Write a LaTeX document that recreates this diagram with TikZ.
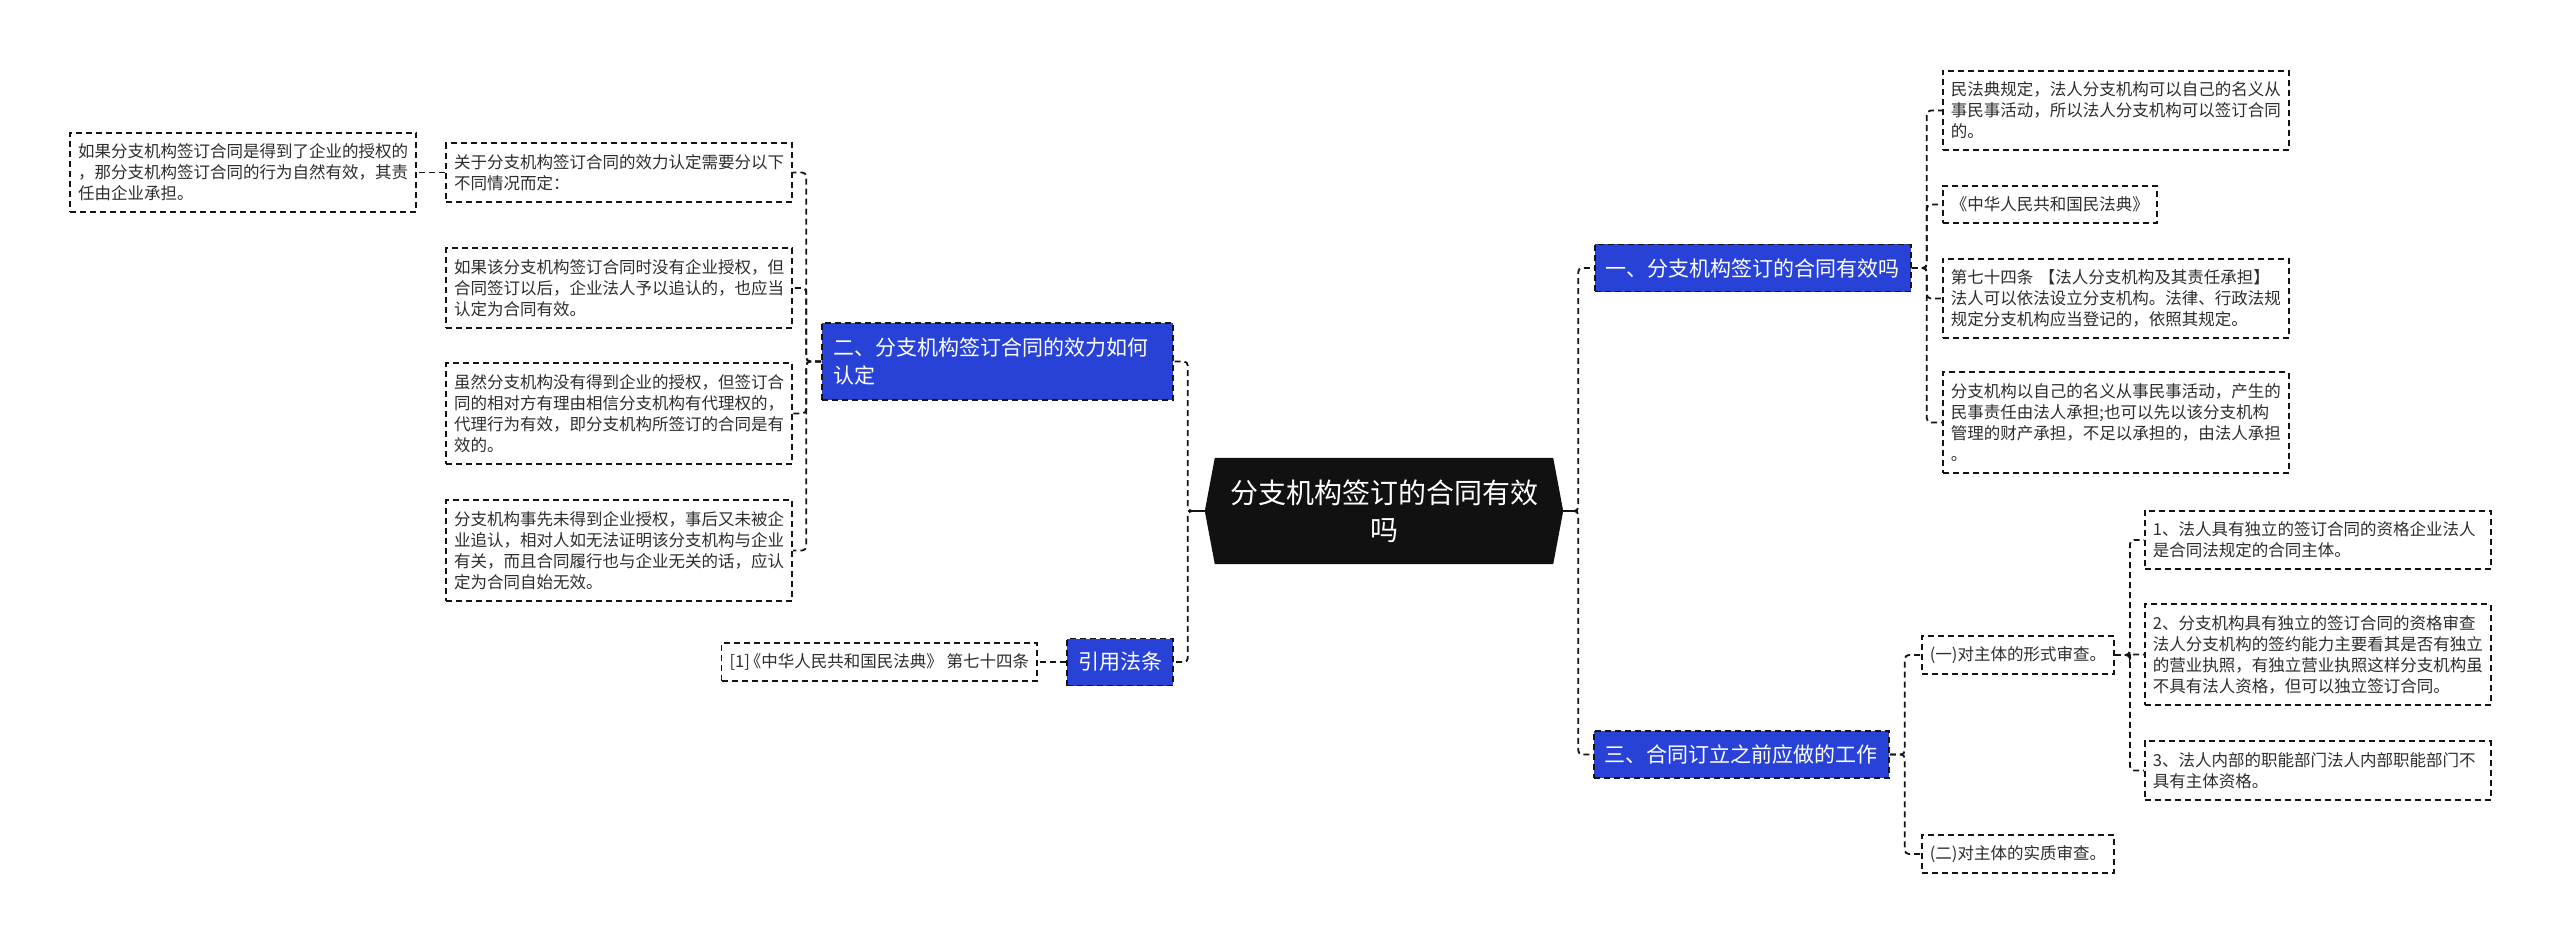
\documentclass[tikz,border=0pt]{standalone}
\usepackage{fontspec}
\newfontfamily\cjk{Noto Sans CJK SC}
\usetikzlibrary{backgrounds}
\definecolor{bluebox}{RGB}{40,66,216}
\definecolor{leaftext}{RGB}{45,45,45}
\definecolor{linec}{RGB}{20,20,20}
\definecolor{rootfill}{RGB}{17,17,17}
\begin{document}
\begin{tikzpicture}[x=1pt,y=-1pt,
  dsh/.style={dash pattern=on 6pt off 4pt, line width=1.8pt, draw=linec},
  leaf/.style={dsh, fill=white, text=leaftext, font=\cjk\fontsize{16.5}{21}\selectfont, inner xsep=8pt, inner ysep=2pt, align=left},
  nl/.style={minimum height={37.5pt+21pt*(#1-1)}},
  wide/.style={text width=330pt},
  branch/.style={dsh, fill=bluebox, text=white, font=\cjk\fontsize{21}{27.7}\selectfont, inner xsep=11pt, inner ysep=2pt, align=left, minimum height=47pt},
  conn/.style={dsh, rounded corners=4pt},
  stub/.style={line width=1.8pt, draw=linec},
]
\useasboundingbox (0,0) rectangle (2560,944);

% root
\node[text=white, font=\cjk\fontsize{28}{37}\selectfont, align=center, minimum width=358pt, minimum height=106pt, inner sep=0pt] (root) at (1384,511) {分支机构签订的合同有效\\吗};
\begin{scope}[on background layer]
\fill[white] (0,0) rectangle (2560,944);
\fill[rootfill] (root.west) -- ([xshift=10pt]root.north west) -- ([xshift=-10pt]root.north east) -- (root.east) -- ([xshift=-10pt]root.south east) -- ([xshift=10pt]root.south west) -- cycle;
\end{scope}

% branches
\node[branch, anchor=west] (b1) at (1594,268) {一、分支机构签订的合同有效吗};
\node[branch, anchor=west] (b3) at (1593,754.5) {三、合同订立之前应做的工作};
\node[branch, anchor=east, text width=329pt, minimum height=77pt] (b2) at (1174,361.5) {二、分支机构签订合同的效力如何\\认定};
\node[branch, anchor=east] (b4) at (1174,662) {引用法条};

% left leaves
\node[leaf, wide, nl=2, anchor=east] (lB) at (793,172.5) {关于分支机构签订合同的效力认定需要分以下\\不同情况而定：};
\node[leaf, wide, nl=3, anchor=east] (lA) at (417,172.5) {如果分支机构签订合同是得到了企业的授权的\\，那分支机构签订合同的行为自然有效，其责\\任由企业承担。};
\node[leaf, wide, nl=3, anchor=east] (lC) at (793,288) {如果该分支机构签订合同时没有企业授权，但\\合同签订以后，企业法人予以追认的，也应当\\认定为合同有效。};
\node[leaf, wide, nl=4, anchor=east] (lD) at (793,413.5) {虽然分支机构没有得到企业的授权，但签订合\\同的相对方有理由相信分支机构有代理权的，\\代理行为有效，即分支机构所签订的合同是有\\效的。};
\node[leaf, wide, nl=4, anchor=east] (lE) at (793,550.5) {分支机构事先未得到企业授权，事后又未被企\\业追认，相对人如无法证明该分支机构与企业\\有关，而且合同履行也与企业无关的话，应认\\定为合同自始无效。};
\node[leaf, nl=1, anchor=east] (lF) at (1038,662) {[1]\hspace{-0.3em}《中华人民共和国民法典》 第七十四条};

% right leaves of branch 1
\node[leaf, wide, nl=3, anchor=west] (r1) at (1942,110.5) {民法典规定，法人分支机构可以自己的名义从\\事民事活动，所以法人分支机构可以签订合同\\的。};
\node[leaf, nl=1, anchor=west] (r2) at (1942,204.5) {《中华人民共和国民法典》};
\node[leaf, wide, nl=3, anchor=west] (r3) at (1942,298.5) {第七十四条 【法人分支机构及其责任承担】\\法人可以依法设立分支机构。法律、行政法规\\规定分支机构应当登记的，依照其规定。};
\node[leaf, wide, nl=4, anchor=west] (r4) at (1942,422.5) {分支机构以自己的名义从事民事活动，产生的\\民事责任由法人承担;也可以先以该分支机构\\管理的财产承担，不足以承担的，由法人承担\\。};

% branch 3 children
\node[leaf, nl=1, anchor=west] (t1) at (1921,655) {(一)对主体的形式审查。};
\node[leaf, nl=1, anchor=west] (t2) at (1921,854) {(二)对主体的实质审查。};
\node[leaf, wide, nl=2, anchor=west] (s1) at (2144,540) {1、法人具有独立的签订合同的资格企业法人\\是合同法规定的合同主体。};
\node[leaf, wide, nl=4, anchor=west] (s2) at (2144,654.5) {2、分支机构具有独立的签订合同的资格审查\\法人分支机构的签约能力主要看其是否有独立\\的营业执照，有独立营业执照这样分支机构虽\\不具有法人资格，但可以独立签订合同。};
\node[leaf, wide, nl=2, anchor=west] (s3) at (2144,770.5) {3、法人内部的职能部门法人内部职能部门不\\具有主体资格。};

% connectors from root
\draw[stub] (root.west) -- ++(-17,0);
\draw[stub] (root.east) -- ++(15,0);
\draw[conn] (root.west) -- ++(-17,0) |- (b2.east);
\draw[conn] (root.west) -- ++(-17,0) |- (b4.east);
\draw[conn] (root.east) -- ++(15,0) |- (b1.west);
\draw[conn] (root.east) -- ++(15,0) |- (b3.west);

% branch 1
\foreach \c in {r1,r2,r3,r4}
  \draw[conn] (b1.east) -- ++(15,0) |- (\c.west);
% branch 2
\foreach \c in {lB,lC,lD,lE}
  \draw[conn] (b2.west) -- ++(-15,0) |- (\c.east);
\draw[conn] (lB.west) -- (lA.east);
% references
\draw[conn] (b4.west) -- (lF.east);
% branch 3
\foreach \c in {t1,t2}
  \draw[conn] (b3.east) -- ++(15,0) |- (\c.west);
\foreach \c in {s1,s2,s3}
  \draw[conn] (t1.east) -- ++(15,0) |- (\c.west);
\end{tikzpicture}
\end{document}
